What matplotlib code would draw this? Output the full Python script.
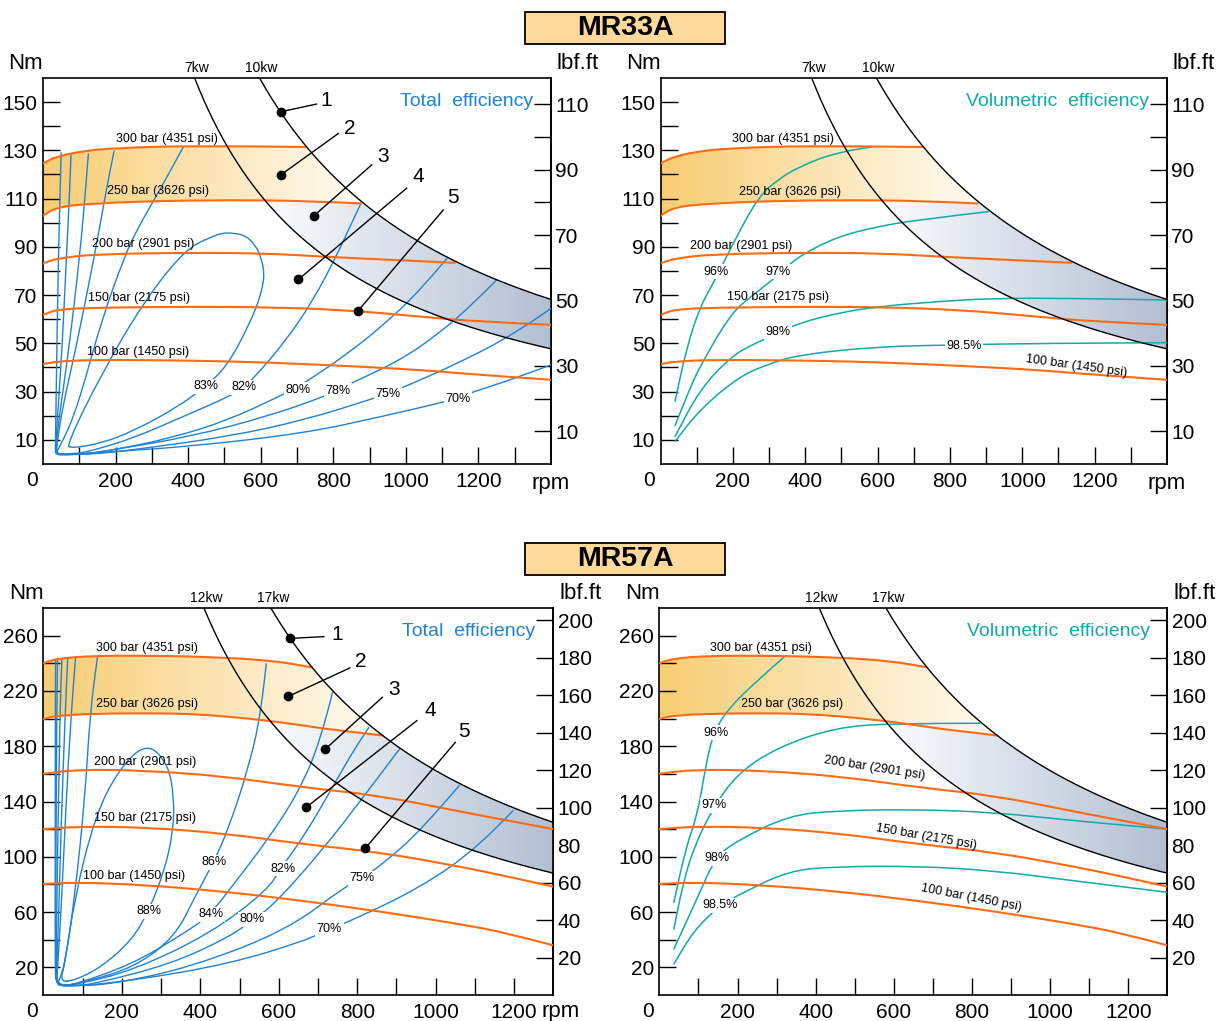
import numpy as np
import matplotlib
matplotlib.use("Agg")
import matplotlib.pyplot as plt
from matplotlib.path import Path
from matplotlib.patches import PathPatch, Polygon, Rectangle
from matplotlib.colors import LinearSegmentedColormap
import matplotlib.transforms as mtransforms

plt.rcParams['font.family'] = ['Liberation Sans Narrow', 'Liberation Sans', 'DejaVu Sans']

# ---------------- data ----------------
pressure_labels = ['300 bar (4351 psi)', '250 bar (3626 psi)', '200 bar (2901 psi)',
                   '150 bar (2175 psi)', '100 bar (1450 psi)']

# MR33A pressure curves (rpm, Nm)
mr33_p300_rpm = [0, 39, 123, 197, 302, 408, 550, 723]
mr33_p300_nm = [124.6, 127.6, 130.0, 130.8, 131.5, 131.7, 131.7, 131.4]
mr33_p250_rpm = [0, 39, 144, 302, 513, 724, 876]
mr33_p250_nm = [102.9, 106.6, 108.0, 109.0, 109.4, 109.1, 108.0]
mr33_p200_rpm = [0, 39, 144, 408, 618, 776, 934, 1135]
mr33_p200_nm = [83.2, 85.2, 87.0, 87.6, 87.3, 85.9, 84.8, 83.4]
mr33_p150_rpm = [0, 39, 144, 408, 618, 829, 1040, 1198, 1400]
mr33_p150_nm = [61.8, 64.1, 64.8, 65.2, 65.0, 63.9, 61.1, 59.0, 57.7]
mr33_p100_rpm = [0, 39, 144, 408, 618, 829, 1040, 1198, 1400]
mr33_p100_nm = [41.4, 42.5, 43.2, 42.9, 42.1, 40.7, 39.0, 37.0, 34.9]
mr33_kw = [7, 10]

# MR57A pressure curves (rpm, Nm)
mr57_p300_rpm = [0, 35, 130, 250, 375, 500, 570, 640, 685]
mr57_p300_nm = [240.0, 243.5, 245.4, 245.5, 245.0, 243.5, 242.0, 239.5, 237.0]
mr57_p250_rpm = [0, 40, 180, 300, 375, 470, 570, 650, 720, 800, 865]
mr57_p250_nm = [199.7, 202.5, 203.8, 203.8, 203.3, 201.5, 198.5, 195.5, 192.5, 190.0, 187.7]
mr57_p200_rpm = [0, 90, 260, 460, 660, 860, 1060, 1300]
mr57_p200_nm = [160.0, 163.2, 162.4, 158.3, 150.3, 144.2, 132.7, 120.0]
mr57_p150_rpm = [0, 90, 260, 460, 660, 860, 1060, 1180, 1300]
mr57_p150_nm = [120.0, 121.9, 121.3, 117.0, 109.2, 103.2, 93.0, 86.0, 78.4]
mr57_p100_rpm = [0, 90, 260, 460, 660, 860, 1060, 1180, 1300]
mr57_p100_nm = [80.3, 81.5, 79.6, 74.9, 68.2, 60.4, 51.4, 45.0, 35.9]
mr57_kw = [12, 17]

# MR33A total efficiency contours
mr33_tot_82_rpm = [387, 320, 258, 221, 162, 116, 85, 62, 45, 38, 40, 60, 100, 144, 250, 387, 513, 550, 581, 671, 745, 808, 850, 876]
mr33_tot_82_nm = [131.5, 113, 97, 84.6, 59.7, 34.8, 20, 12, 7, 5, 4.2, 4.1, 4.5, 5.9, 10.8, 19.7, 28, 31.4, 35.6, 51.4, 68, 86, 99.7, 108]
mr33_tot_80_rpm = [196, 176, 143, 88, 56, 42, 37, 39, 60, 120, 197, 355, 513, 650, 697, 734, 829, 934, 1040, 1113]
mr33_tot_80_nm = [129.7, 115, 87, 46, 25, 12, 6, 4.3, 4.0, 4.2, 5.9, 10.8, 18.3, 28, 31.4, 35, 44.6, 57, 72, 85.2]
mr33_tot_78_rpm = [125, 118, 102, 70, 45, 38, 36, 38, 60, 120, 197, 408, 618, 776, 813, 850, 987, 1092, 1187, 1250]
mr33_tot_78_nm = [128.5, 115, 87, 46, 20, 10, 6, 4.2, 3.9, 4.2, 6, 11.4, 19.7, 28, 30.8, 33.5, 43.2, 54.2, 66.6, 76.3]
mr33_tot_75_rpm = [77, 74, 65, 52, 40, 36, 35, 37, 60, 150, 250, 513, 723, 914, 951, 987, 1145, 1303, 1400]
mr33_tot_75_nm = [128, 115, 87, 46, 20, 10, 6, 4.1, 3.8, 4.2, 5.9, 11.4, 18.3, 27.3, 29.4, 31.4, 41.8, 54.2, 64.5]
mr33_tot_70_rpm = [50, 43, 38, 35, 34, 35, 60, 197, 408, 723, 934, 1092, 1140, 1176, 1303, 1400]
mr33_tot_70_nm = [129, 90, 46, 15, 6, 3.9, 3.7, 5.2, 7.3, 12.8, 19.7, 25.2, 27.3, 29.4, 35.6, 41.1]
mr33_tot_83_rpm = [65, 162, 281, 391, 460, 506, 575, 612, 603, 566, 506, 446, 373, 254, 162, 79, 65]
mr33_tot_83_nm = [7.9, 37.6, 68, 88.7, 94, 96.3, 94.2, 81.8, 70.8, 56.9, 40.3, 32, 23.8, 14, 8.6, 6.5, 7.9]
mr33_tot_labels = ['83%', '82%', '80%', '78%', '75%', '70%']
mr33_tot_label_rpm = [449, 554, 703, 813, 951, 1144]
mr33_tot_label_nm = [32.3, 31.9, 30.7, 30.3, 29.0, 26.9]

# MR33A volumetric efficiency curves
mr33_vol_96_rpm = [40, 70, 108, 157, 195, 271, 326, 380, 488, 586]
mr33_vol_96_nm = [26, 47, 65, 78, 90, 111, 118, 123, 129.4, 131.5]
mr33_vol_97_rpm = [40, 76, 108, 195, 250, 326, 380, 488, 597, 705, 906]
mr33_vol_97_nm = [15.9, 29.4, 40.4, 62.5, 69.4, 78.3, 86, 94.2, 98.3, 101.1, 104.6]
mr33_vol_98_rpm = [40, 108, 195, 260, 326, 380, 488, 597, 760, 922, 1139, 1400]
mr33_vol_98_nm = [11.4, 30.8, 44.6, 50, 54.2, 58.3, 62.5, 65.2, 67.3, 68.7, 68.7, 68]
mr33_vol_985_rpm = [40, 108, 217, 300, 380, 597, 836, 1031, 1400]
mr33_vol_985_nm = [9.4, 22.5, 36.3, 41.5, 45.2, 48.7, 49.4, 50, 50.3]
mr33_vol_labels = ['96%', '97%', '98%', '98.5%']
mr33_vol_label_rpm = [154, 325, 325, 838]
mr33_vol_label_nm = [79.6, 79.6, 54.7, 48.9]

# MR57A total efficiency contours
mr57_tot_86_rpm = [138, 119, 106, 80, 55, 42, 36, 40, 60, 106, 233, 335, 386, 432, 470, 521, 555, 568]
mr57_tot_86_nm = [245, 204, 143, 71, 23, 12, 8, 7, 6.8, 9.4, 20.2, 42, 70.9, 95, 119, 162.5, 203.5, 239.6]
mr57_tot_84_rpm = [82, 70, 58, 45, 36, 34, 40, 80, 227, 355, 423, 492, 570, 648, 707, 737]
mr57_tot_84_nm = [244.5, 200, 140, 60, 20, 9, 7, 7.5, 22.4, 44, 57.4, 82.7, 111.7, 145.4, 184, 219]
mr57_tot_82_rpm = [62, 55, 45, 37, 33, 36, 80, 227, 423, 570, 607, 668, 737, 795, 830]
mr57_tot_82_nm = [244, 200, 120, 40, 12, 7.2, 7.2, 17.6, 44, 75.5, 92.4, 116.5, 150.3, 179.2, 193.7]
mr57_tot_80_rpm = [47, 42, 36, 32, 33, 80, 129, 325, 472, 531, 590, 717, 815, 908]
mr57_tot_80_nm = [243.5, 200, 100, 20, 7.5, 6.8, 8, 22.4, 41.7, 53.8, 65.8, 106.9, 143, 178]
mr57_tot_75_rpm = [36, 34, 32, 31, 33, 80, 178, 374, 619, 766, 815, 865, 962, 1060]
mr57_tot_75_nm = [243.5, 200, 100, 20, 7, 6.5, 8, 20, 46.6, 77.9, 85.1, 94.8, 118.9, 151.5]
mr57_tot_70_rpm = [31, 30.5, 30, 30, 32, 80, 227, 472, 668, 727, 786, 962, 1109, 1197]
mr57_tot_70_nm = [243, 200, 100, 20, 6.8, 6.3, 10.4, 22.4, 39.3, 47.8, 53.8, 77.9, 106.9, 133.4]
mr57_tot_88_rpm = [42, 55, 80, 131, 190, 263, 318, 333, 331, 309, 267, 225, 148, 80, 42]
mr57_tot_88_nm = [9.4, 22.7, 70.9, 128.7, 162.5, 183, 167.3, 143, 119, 90, 60, 39.6, 20.2, 10.6, 9.4]
mr57_tot_labels = ['88%', '86%', '84%', '82%', '80%', '75%', '70%']
mr57_tot_label_rpm = [269, 434, 427, 610, 533, 813, 729]
mr57_tot_label_nm = [60.6, 96.0, 58.5, 91.5, 54.7, 84.4, 47.5]

# MR57A volumetric efficiency curves
mr57_vol_96_rpm = [37, 68, 98, 118, 138, 179, 250, 320]
mr57_vol_96_nm = [67, 107, 131, 165, 190, 208, 227.4, 244.8]
mr57_vol_97_rpm = [37, 60, 88, 138, 199, 300, 452, 603, 820]
mr57_vol_97_nm = [47.8, 80, 106.9, 135.8, 160, 179, 193.7, 196.6, 196.6]
mr57_vol_98_rpm = [37, 98, 143, 199, 330, 452, 654, 856, 1058, 1300]
mr57_vol_98_nm = [33.3, 70.7, 99.6, 111.7, 129.8, 133.4, 134.3, 132.2, 126.1, 120]
mr57_vol_985_rpm = [37, 88, 154, 199, 330, 452, 654, 856, 1058, 1300]
mr57_vol_985_nm = [22.4, 46.6, 64.6, 71.9, 90, 92.9, 93.3, 90, 82.7, 74.3]
mr57_vol_labels = ['96%', '97%', '98%', '98.5%']
mr57_vol_label_rpm = [144, 139, 146, 154]
mr57_vol_label_nm = [189.9, 137.2, 98.9, 64.9]

# numbered call-outs 1..5
callout_labels = ['1', '2', '3', '4', '5']
mr33_dot_rpm = [655, 655, 746, 704, 868]
mr33_dot_nm = [146.0, 119.8, 102.8, 76.5, 63.4]
mr33_lead_rpm = [754, 814, 906, 1002, 1103]
mr33_lead_nm = [149.2, 137.0, 124.0, 114.3, 105.3]
mr33_num_rpm = [780, 846, 937, 1034, 1129]
mr33_num_nm = [150.5, 139.0, 127.4, 119.0, 110.5]
mr57_dot_rpm = [629, 624, 719, 670, 820]
mr57_dot_nm = [258.0, 216.0, 178.0, 135.8, 106.0]
mr57_lead_rpm = [715, 781, 864, 952, 1050]
mr57_lead_nm = [259.3, 236.6, 215.4, 198.5, 182.8]
mr57_num_rpm = [748, 810, 893, 986, 1073]
mr57_num_nm = [261.0, 241.0, 221.0, 206.0, 191.0]

# pressure label positions (rpm, Nm, rotation)
mr33_tot_plab_rpm = [342, 317, 276, 265, 262]
mr33_tot_plab_nm = [134.7, 113.2, 91.2, 68.8, 46.4]
mr33_vol_plab_rpm = [338, 358, 222, 325, 1150]
mr33_vol_plab_nm = [134.7, 112.7, 90.4, 69.2, 40.5]
mr33_vol_plab_rot = [0, 0, 0, 0, -8]
mr57_tot_plab_rpm = [264, 264, 259, 259, 231]
mr57_tot_plab_nm = [250.8, 210.3, 168.4, 127.9, 86.0]
mr57_vol_plab_rpm = [259, 340, 551, 684, 798]
mr57_vol_plab_nm = [250.8, 210.3, 164.0, 114.7, 70.6]
mr57_vol_plab_rot = [0, 0, -9, -10, -11]

NM_TO_LBFFT = 0.737562

# ---------------- style ----------------
ORANGE = '#ff6b12'
BLUE = '#1f82d4'
TEAL = '#12a9a9'
YEL0, YEL1 = '#f8cd72', '#fffcf4'
GRY0, GRY1 = '#fbfcfe', '#b2bfd2'
TICK_FS = 15
AXLAB_FS = 16

fig = plt.figure(figsize=(12.19, 10.21), dpi=100)


def kw_torque(p_kw, rpm):
    rpm = np.asarray(rpm, dtype=float)
    return p_kw * 1000.0 * 60.0 / (2 * np.pi * rpm)


def smooth_path(xs, ys, closed=False):
    pts = np.column_stack([xs, ys]).astype(float)
    verts, codes = [], []
    if closed:
        if np.allclose(pts[0], pts[-1]):
            pts = pts[:-1]
        n = len(pts)
        mids = (pts + np.roll(pts, -1, axis=0)) / 2
        verts.append(mids[-1]); codes.append(Path.MOVETO)
        for i in range(n):
            verts += [pts[i], mids[i]]
            codes += [Path.CURVE3, Path.CURVE3]
    else:
        n = len(pts)
        verts.append(pts[0]); codes.append(Path.MOVETO)
        mids = (pts[:-1] + pts[1:]) / 2
        verts.append(mids[0]); codes.append(Path.LINETO)
        for i in range(1, n - 1):
            end = mids[i] if i < n - 2 else pts[-1]
            verts += [pts[i], end]
            codes += [Path.CURVE3, Path.CURVE3]
        if n == 2:
            verts.append(pts[-1]); codes.append(Path.LINETO)
    return Path(verts, codes)


def curve(ax, xs, ys, color, lw, z, closed=False):
    ax.add_patch(PathPatch(smooth_path(xs, ys, closed), fill=False, ec=color,
                           lw=lw, zorder=z, capstyle='round', joinstyle='round'))


def gradient_region(ax, xs, top, bottom, x0, x1, ymax, c0, c1, z):
    verts = list(zip(xs, top)) + list(zip(xs[::-1], bottom[::-1]))
    poly = Polygon(verts, closed=True, fc='none', ec='none', transform=ax.transData)
    cmap = LinearSegmentedColormap.from_list('g', [c0, c1])
    grad = np.linspace(0, 1, 256).reshape(1, -1)
    im = ax.imshow(grad, extent=[x0, x1, 0, ymax], aspect='auto', cmap=cmap,
                   origin='lower', zorder=z, interpolation='bilinear')
    im.set_clip_path(poly)


def panel(rect, xmax, ymax, pcurves, kws, ylab_major, ylab_minor, r_major, r_minor,
          title, tcolor, rpm_label):
    ax = fig.add_axes(rect)
    p300x, p300y = pcurves[0]
    p250x, p250y = pcurves[1]
    klo, khi = kws
    # yellow band between 250 and 300 bar, limited by the higher kW curve
    xs = np.linspace(0.5, p250x[-1], 500)
    top = np.minimum(np.interp(xs, p300x, p300y), kw_torque(khi, xs))
    bot = np.interp(xs, p250x, p250y)
    gradient_region(ax, xs, top, bot, 0, p250x[-1], ymax, YEL0, YEL1, 1)
    # blue-grey band between kW curves, below 250 bar
    xx = np.linspace(200, xmax, 6000)
    ok = kw_torque(klo, xx) <= np.minimum(np.interp(xx, p250x, p250y), kw_torque(khi, xx))
    xstart = xx[np.argmax(ok)]
    xs2 = np.linspace(xstart, xmax, 500)
    top2 = np.minimum(np.interp(xs2, p250x, p250y), kw_torque(khi, xs2))
    bot2 = kw_torque(klo, xs2)
    gradient_region(ax, xs2, top2, bot2, xstart, xmax, ymax, GRY0, GRY1, 1)
    # pressure curves
    for px, py in pcurves:
        curve(ax, px, py, ORANGE, 1.5, 4)
    # kW curves
    for p in kws:
        n0 = p * 1000 * 60 / (2 * np.pi * ymax)
        nn = np.linspace(n0, xmax, 400)
        ax.plot(nn, kw_torque(p, nn), color='black', lw=1.0, zorder=4.5)
        ax.text(n0 + xmax * 0.004, 1.008, f'{p}kw',
                transform=mtransforms.blended_transform_factory(ax.transData, ax.transAxes),
                ha='center', va='bottom', fontsize=10)
    ax.set_xlim(0, xmax)
    ax.set_ylim(0, ymax)
    ax.set_xticks(np.arange(200, 1201, 200))
    ax.set_xticks(np.arange(100, xmax, 200), minor=True)
    ax.set_yticks(ylab_major)
    ax.set_yticks(ylab_minor, minor=True)
    ax.tick_params(which='both', direction='in', length=12, width=1.0, labelsize=TICK_FS)
    ax.tick_params(axis='x', pad=6)
    ax.tick_params(axis='y', pad=4)
    for s in ax.spines.values():
        s.set_linewidth(1.2)
    sec = ax.secondary_yaxis('right', functions=(lambda y: y * NM_TO_LBFFT, lambda y: y / NM_TO_LBFFT))
    sec.set_yticks(r_major)
    sec.set_yticks(r_minor, minor=True)
    sec.tick_params(which='both', direction='in', length=12, width=1.0, labelsize=TICK_FS, pad=3)
    sec.spines['right'].set_linewidth(1.2)
    ax.text(-0.022, -0.042, '0', transform=ax.transAxes, ha='center', va='center', fontsize=TICK_FS)
    ax.text(-0.034, 1.038, 'Nm', transform=ax.transAxes, ha='center', va='center', fontsize=AXLAB_FS)
    ax.text(1.053, 1.038, 'lbf.ft', transform=ax.transAxes, ha='center', va='center', fontsize=AXLAB_FS)
    if rpm_label:
        ax.text(1.0 + rpm_label[0], rpm_label[1], 'rpm', transform=ax.transAxes,
                ha='center', va='center', fontsize=AXLAB_FS)
    ax.text(0.965, 0.94, title, transform=ax.transAxes, ha='right', va='center',
            fontsize=14, color=tcolor)
    return ax


def plabels(ax, xs, ys, rots=None):
    for i, t in enumerate(pressure_labels):
        r = 0 if rots is None else rots[i]
        ax.text(xs[i], ys[i], t, ha='center', va='center', fontsize=9, rotation=r, zorder=6)


def pct_labels(ax, labels, xs, ys):
    for t, x, y in zip(labels, xs, ys):
        ax.text(x, y, t, ha='center', va='center', fontsize=9, zorder=5,
                bbox=dict(boxstyle='square,pad=0.12', fc='white', ec='none'))


def callouts(ax, dx, dy, lx, ly, nx, ny):
    for i in range(5):
        ax.plot([dx[i], lx[i]], [dy[i], ly[i]], color='black', lw=1.0, zorder=7)
        ax.plot(dx[i], dy[i], 'o', color='black', ms=6, zorder=7)
        ax.text(nx[i], ny[i], callout_labels[i], ha='center', va='center', fontsize=15, zorder=7)


def title_box(y0, text):
    fig.add_artist(Rectangle((525 / 1219, y0), 200 / 1219, 32 / 1021, transform=fig.transFigure,
                             fc='#fdda9a', ec='black', lw=1.3))
    fig.text(625 / 1219, y0 + 16 / 1021, text, ha='center', va='center', fontsize=20.5,
             fontweight='bold', family=['Liberation Sans', 'DejaVu Sans'])


mr33_p = [(mr33_p300_rpm, mr33_p300_nm), (mr33_p250_rpm, mr33_p250_nm), (mr33_p200_rpm, mr33_p200_nm),
          (mr33_p150_rpm, mr33_p150_nm), (mr33_p100_rpm, mr33_p100_nm)]
mr57_p = [(mr57_p300_rpm, mr57_p300_nm), (mr57_p250_rpm, mr57_p250_nm), (mr57_p200_rpm, mr57_p200_nm),
          (mr57_p150_rpm, mr57_p150_nm), (mr57_p100_rpm, mr57_p100_nm)]

top_y_major = np.arange(10, 151, 20)
top_y_minor = np.arange(20, 141, 20)
top_r_major = np.arange(10, 111, 20)
top_r_minor = np.arange(20, 101, 20)
bot_y_major = np.arange(20, 261, 40)
bot_y_minor = np.arange(40, 241, 40)
bot_r_major = np.arange(20, 201, 20)
bot_r_minor = []

# ---- MR33A total ----
ax1 = panel([43 / 1219, 557 / 1021, 508 / 1219, 386 / 1021], 1400, 160, mr33_p, mr33_kw,
            top_y_major, top_y_minor, top_r_major, top_r_minor, 'Total  efficiency', BLUE, (0.0, -0.05))
for xs_, ys_ in [(mr33_tot_82_rpm, mr33_tot_82_nm), (mr33_tot_80_rpm, mr33_tot_80_nm),
                 (mr33_tot_78_rpm, mr33_tot_78_nm), (mr33_tot_75_rpm, mr33_tot_75_nm),
                 (mr33_tot_70_rpm, mr33_tot_70_nm)]:
    curve(ax1, xs_, ys_, BLUE, 1.0, 3)
curve(ax1, mr33_tot_83_rpm, mr33_tot_83_nm, BLUE, 1.0, 3, closed=True)
pct_labels(ax1, mr33_tot_labels, mr33_tot_label_rpm, mr33_tot_label_nm)
plabels(ax1, mr33_tot_plab_rpm, mr33_tot_plab_nm)
callouts(ax1, mr33_dot_rpm, mr33_dot_nm, mr33_lead_rpm, mr33_lead_nm, mr33_num_rpm, mr33_num_nm)

# ---- MR33A volumetric ----
ax2 = panel([660.6 / 1219, 557 / 1021, 506.4 / 1219, 386 / 1021], 1400, 160, mr33_p, mr33_kw,
            top_y_major, top_y_minor, top_r_major, top_r_minor, 'Volumetric  efficiency', TEAL, (0.0, -0.05))
for xs_, ys_ in [(mr33_vol_96_rpm, mr33_vol_96_nm), (mr33_vol_97_rpm, mr33_vol_97_nm),
                 (mr33_vol_98_rpm, mr33_vol_98_nm), (mr33_vol_985_rpm, mr33_vol_985_nm)]:
    curve(ax2, xs_, ys_, TEAL, 1.1, 3)
pct_labels(ax2, mr33_vol_labels, mr33_vol_label_rpm, mr33_vol_label_nm)
plabels(ax2, mr33_vol_plab_rpm, mr33_vol_plab_nm, mr33_vol_plab_rot)

# ---- MR57A total ----
ax3 = panel([43.4 / 1219, 26 / 1021, 510 / 1219, 387 / 1021], 1300, 280, mr57_p, mr57_kw,
            bot_y_major, bot_y_minor, bot_r_major, bot_r_minor, 'Total  efficiency', BLUE, (0.014, -0.042))
for xs_, ys_ in [(mr57_tot_86_rpm, mr57_tot_86_nm), (mr57_tot_84_rpm, mr57_tot_84_nm),
                 (mr57_tot_82_rpm, mr57_tot_82_nm), (mr57_tot_80_rpm, mr57_tot_80_nm),
                 (mr57_tot_75_rpm, mr57_tot_75_nm), (mr57_tot_70_rpm, mr57_tot_70_nm)]:
    curve(ax3, xs_, ys_, BLUE, 1.0, 3)
curve(ax3, mr57_tot_88_rpm, mr57_tot_88_nm, BLUE, 1.0, 3, closed=True)
pct_labels(ax3, mr57_tot_labels, mr57_tot_label_rpm, mr57_tot_label_nm)
plabels(ax3, mr57_tot_plab_rpm, mr57_tot_plab_nm)
callouts(ax3, mr57_dot_rpm, mr57_dot_nm, mr57_lead_rpm, mr57_lead_nm, mr57_num_rpm, mr57_num_nm)

# ---- MR57A volumetric ----
ax4 = panel([659.4 / 1219, 26 / 1021, 508 / 1219, 387 / 1021], 1300, 280, mr57_p, mr57_kw,
            bot_y_major, bot_y_minor, bot_r_major, bot_r_minor, 'Volumetric  efficiency', TEAL, None)
for xs_, ys_ in [(mr57_vol_96_rpm, mr57_vol_96_nm), (mr57_vol_97_rpm, mr57_vol_97_nm),
                 (mr57_vol_98_rpm, mr57_vol_98_nm), (mr57_vol_985_rpm, mr57_vol_985_nm)]:
    curve(ax4, xs_, ys_, TEAL, 1.1, 3)
pct_labels(ax4, mr57_vol_labels, mr57_vol_label_rpm, mr57_vol_label_nm)
plabels(ax4, mr57_vol_plab_rpm, mr57_vol_plab_nm, mr57_vol_plab_rot)

title_box((1021 - 44) / 1021, 'MR33A')
title_box((1021 - 575) / 1021, 'MR57A')

fig.savefig('out.png', dpi=100)
